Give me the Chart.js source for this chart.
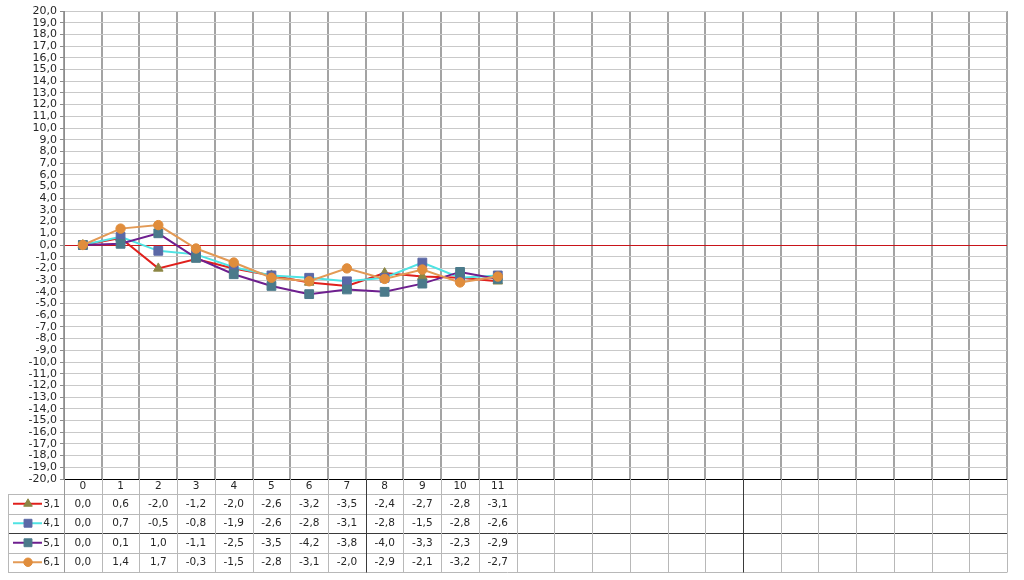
<!DOCTYPE html>
<html>
<head>
<meta charset="utf-8">
<script src="https://cdn.jsdelivr.net/npm/chart.js@4.4.1/dist/chart.umd.min.js"></script>
<style>
  html, body { margin: 0; padding: 0; background: #fff; }
  #wrap { width: 1024px; height: 580px; }
</style>
</head>
<body>
<div id="wrap"><canvas id="c" width="1024" height="580"></canvas></div>
<script>
// ---- data ----
const categories = ['0','1','2','3','4','5','6','7','8','9','10','11','','','','','','','','','','','','',''];
const seriesNames = ['3,1', '4,1', '5,1', '6,1'];
const s31 = [0.0, 0.6, -2.0, -1.2, -2.0, -2.6, -3.2, -3.5, -2.4, -2.7, -2.8, -3.1];
const s41 = [0.0, 0.7, -0.5, -0.8, -1.9, -2.6, -2.8, -3.1, -2.8, -1.5, -2.8, -2.6];
const s51 = [0.0, 0.1, 1.0, -1.1, -2.5, -3.5, -4.2, -3.8, -4.0, -3.3, -2.3, -2.9];
const s61 = [0.0, 1.4, 1.7, -0.3, -1.5, -2.8, -3.1, -2.0, -2.9, -2.1, -3.2, -2.7];
const yMin = -20, yMax = 20, yStep = 1;

// ---- styles ----
const lineColors = ['#e0201c', '#4fe3e3', '#6e1f8f', '#e39a55'];
const markerColors = ['#8c8644', '#5b68a6', '#4b7a8b', '#e08d3c'];
const markerStyles = ['triangle', 'rect', 'rect', 'circle'];
const markerRadii = [5.5, 6.2, 6.2, 4.7];
const allSeries = [s31, s41, s51, s61];

const FONT = '"DejaVu Sans", sans-serif';
const FSIZE = 11;
const TSIZE = 10.5;
Chart.defaults.font.family = FONT;
Chart.defaults.font.size = FSIZE;
Chart.defaults.color = '#262626';

const fmt = v => Number(v).toFixed(1).replace('.', ',');

const datasets = allSeries.map((d, i) => ({
  label: seriesNames[i],
  data: d,
  borderColor: lineColors[i],
  backgroundColor: markerColors[i],
  borderWidth: 2,
  pointStyle: markerStyles[i],
  pointRadius: markerRadii[i],
  pointHoverRadius: markerRadii[i],
  pointBackgroundColor: markerColors[i],
  pointBorderColor: markerColors[i],
  pointBorderWidth: 1,
  tension: 0,
  fill: false,
  order: allSeries.length - i
}));

const tablePlugin = {
  id: 'dataTable',
  afterDraw(chart) {
    const ctx = chart.ctx;
    const xs = chart.scales.x;
    const area = chart.chartArea;
    const n = categories.length;
    const colW = (xs.right - xs.left) / n;
    const top = area.bottom;            // header row top
    const rowTop = top + 15;            // first data row top
    const rowH = 19.5;
    const nRows = seriesNames.length;
    const bottom = rowTop + rowH * nRows;
    const legendLeft = 8;
    const darkCols = [8, 18];
    const darkRows = [2];

    ctx.save();
    // horizontal lines
    for (let r = 0; r <= nRows; r++) {
      const y = Math.round(rowTop + r * rowH) + 0.5;
      ctx.strokeStyle = darkRows.includes(r) ? '#3a3a3a' : '#b8b8b8';
      ctx.lineWidth = 1;
      ctx.beginPath();
      ctx.moveTo(legendLeft, y);
      ctx.lineTo(xs.right, y);
      ctx.stroke();
    }
    // vertical lines
    ctx.strokeStyle = '#b8b8b8';
    ctx.beginPath();
    ctx.moveTo(legendLeft + 0.5, Math.round(rowTop) + 0.5);
    ctx.lineTo(legendLeft + 0.5, Math.round(bottom) + 0.5);
    ctx.stroke();
    for (let i = 0; i <= n; i++) {
      const x = Math.round(xs.left + i * colW) + 0.5;
      ctx.strokeStyle = darkCols.includes(i) ? '#3a3a3a' : (i === 0 ? '#9a9a9a' : '#b8b8b8');
      ctx.beginPath();
      ctx.moveTo(x, top);
      ctx.lineTo(x, Math.round(bottom) + 0.5);
      ctx.stroke();
    }
    // values
    ctx.fillStyle = '#262626';
    ctx.font = TSIZE + 'px ' + FONT;
    ctx.textAlign = 'center';
    ctx.textBaseline = 'middle';
    allSeries.forEach((d, r) => {
      const cy = rowTop + r * rowH + rowH / 2 + 0.5;
      d.forEach((v, i) => {
        ctx.fillText(fmt(v), xs.getPixelForValue(i), cy);
      });
    });
    // legend keys
    allSeries.forEach((d, r) => {
      const cy = rowTop + r * rowH + rowH / 2;
      ctx.strokeStyle = lineColors[r];
      ctx.lineWidth = 2;
      ctx.beginPath();
      ctx.moveTo(13, cy);
      ctx.lineTo(42, cy);
      ctx.stroke();
      ctx.fillStyle = markerColors[r];
      ctx.strokeStyle = markerColors[r];
      ctx.lineWidth = 1;
      Chart.helpers.drawPoint(ctx, {
        pointStyle: markerStyles[r],
        radius: markerRadii[r] * 0.9,
        rotation: 0,
        borderWidth: 1
      }, 28, cy);
      ctx.fillStyle = '#262626';
      ctx.textAlign = 'right';
      ctx.fillText(seriesNames[r], 60, cy + 0.5);
    });
    ctx.restore();
  }
};

new Chart(document.getElementById('c'), {
  type: 'line',
  data: { labels: categories, datasets },
  options: {
    responsive: false,
    animation: false,
    devicePixelRatio: 1,
    layout: { padding: { top: 11, right: 17, bottom: 0, left: 0 } },
    plugins: {
      legend: { display: false },
      tooltip: { enabled: false }
    },
    scales: {
      x: {
        type: 'category',
        offset: true,
        afterFit(s) { s.height = 101; },
        grid: {
          offset: true,
          drawTicks: false,
          color: '#a3a3a3',
          lineWidth: 2
        },
        border: { display: true, color: '#000000', width: 1 },
        ticks: {
          padding: 1,
          autoSkip: false,
          maxRotation: 0,
          minRotation: 0,
          color: '#262626',
          font: { size: TSIZE }
        }
      },
      y: {
        min: yMin,
        max: yMax,
        afterFit(s) { s.width = 64; },
        grid: {
          drawTicks: true,
          tickLength: 4,
          tickColor: '#8c8c8c',
          color: ctx => (ctx.tick && ctx.tick.value === 0) ? '#c8141a' : '#c9c9c9',
          lineWidth: 1
        },
        border: { display: true, color: '#8c8c8c', width: 1 },
        ticks: {
          stepSize: yStep,
          autoSkip: false,
          padding: 3,
          color: '#262626',
          font: { size: FSIZE },
          callback: v => fmt(v)
        }
      }
    }
  },
  plugins: [tablePlugin]
});
</script>
</body>
</html>
